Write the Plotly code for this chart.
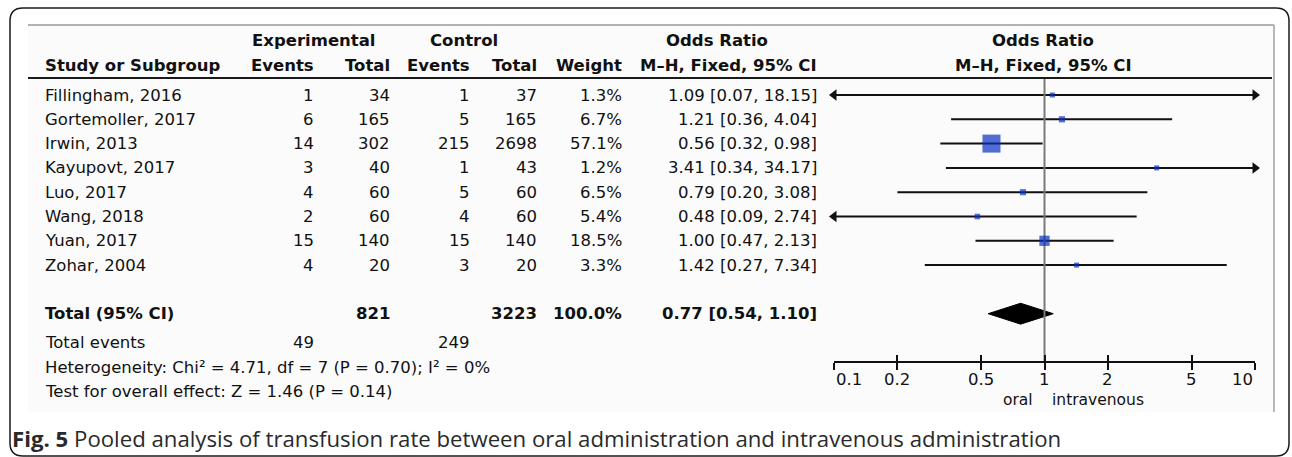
import math
import plotly.graph_objects as go

W, H = 1292, 457

# ---------------- data ----------------
studies = ["Fillingham, 2016", "Gortemoller, 2017", "Irwin, 2013", "Kayupovt, 2017",
           "Luo, 2017", "Wang, 2018", "Yuan, 2017", "Zohar, 2004"]
exp_events = [1, 6, 14, 3, 4, 2, 15, 4]
exp_total = [34, 165, 302, 40, 60, 60, 140, 20]
ctrl_events = [1, 5, 215, 1, 5, 4, 15, 3]
ctrl_total = [37, 165, 2698, 43, 60, 60, 140, 20]
weights = [1.3, 6.7, 57.1, 1.2, 6.5, 5.4, 18.5, 3.3]
or_est = [1.09, 1.21, 0.56, 3.41, 0.79, 0.48, 1.00, 1.42]
ci_low = [0.07, 0.36, 0.32, 0.34, 0.20, 0.09, 0.47, 0.27]
ci_high = [18.15, 4.04, 0.98, 34.17, 3.08, 2.74, 2.13, 7.34]

total_label = "Total (95% CI)"
total_exp = 821
total_ctrl = 3223
total_weight = 100.0
pooled_or = 0.77
pooled_low = 0.54
pooled_high = 1.10
events_exp = 49
events_ctrl = 249
heterogeneity = "Heterogeneity: Chi² = 4.71, df = 7 (P = 0.70); I² = 0%"
overall_effect = "Test for overall effect: Z = 1.46 (P = 0.14)"

tick_vals = [0.1, 0.2, 0.5, 1, 2, 5, 10]
tick_text = ["0.1", "0.2", "0.5", "1", "2", "5", "10"]
axis_min, axis_max = 0.1, 10
favours_left = "oral"
favours_right = "intravenous"
caption_bold = "Fig. 5"
caption_text = "Pooled analysis of transfusion rate between oral administration and intravenous administration"

# ---------------- layout helpers ----------------
ROW0 = 95.0      # pixel y of first study row
ROWH = 24.3      # row pitch in px
FONT = "DejaVu Sans"
TXT = "#111111"


def X(px):
    return px / W


def Y(py):
    return 1 - py / H


def row_of(py):
    return (py - ROW0) / ROWH


fig = go.Figure()

n = len(studies)
rows = list(range(n))
total_row = n + 1

# pooled diamond
dh = 0.43
fig.add_trace(go.Scatter(
    x=[pooled_low, pooled_or, pooled_high, pooled_or, pooled_low],
    y=[total_row, total_row - dh, total_row, total_row + dh, total_row],
    mode="lines", fill="toself", fillcolor="#000000",
    line=dict(color="#000000", width=1), hoverinfo="skip", showlegend=False,
    xaxis="x", yaxis="y"))

# CI lines
for i in rows:
    lo = max(ci_low[i], axis_min)
    hi = min(ci_high[i], axis_max)
    fig.add_trace(go.Scatter(
        x=[lo, hi], y=[i, i], mode="lines",
        line=dict(color="#111111", width=2), hoverinfo="skip", showlegend=False,
        xaxis="x", yaxis="y"))

# arrows for clipped CIs
left_x = [axis_min for i in rows if ci_low[i] < axis_min]
left_y = [i for i in rows if ci_low[i] < axis_min]
right_x = [axis_max for i in rows if ci_high[i] > axis_max]
right_y = [i for i in rows if ci_high[i] > axis_max]
fig.add_trace(go.Scatter(x=left_x, y=left_y, mode="markers",
                         marker=dict(symbol="triangle-left", size=10, color="#111111", line=dict(width=0)),
                         hoverinfo="skip", showlegend=False, cliponaxis=False, xaxis="x", yaxis="y"))
fig.add_trace(go.Scatter(x=right_x, y=right_y, mode="markers",
                         marker=dict(symbol="triangle-right", size=10, color="#111111", line=dict(width=0)),
                         hoverinfo="skip", showlegend=False, cliponaxis=False, xaxis="x", yaxis="y"))

# null line at OR = 1
fig.add_trace(go.Scatter(
    x=[1, 1], y=[row_of(78), row_of(362)], mode="lines",
    line=dict(color="#7a7a7a", width=2), hoverinfo="skip", showlegend=False,
    xaxis="x", yaxis="y"))

# squares (area ~ weight)
wmax = max(weights)
sizes = [max(5.0, 18.0 * (w / wmax) ** 0.5) for w in weights]
fig.add_trace(go.Scatter(
    x=or_est, y=rows, mode="markers",
    marker=dict(symbol="square", size=sizes, color="#0a2fc0", line=dict(width=0)),
    hoverinfo="skip", showlegend=False, cliponaxis=False, xaxis="x", yaxis="y"))

# dummy trace for overlay axis (upper tick halves)
fig.add_trace(go.Scatter(x=[1], y=[0], mode="markers", marker=dict(opacity=0),
                         hoverinfo="skip", showlegend=False, xaxis="x2", yaxis="y"))

# ---------------- table text ----------------
ann = []


def txt(px, row, s, anchor="right", bold=False, size=16.5, color=TXT, family=FONT):
    if bold:
        s = "<b>" + s + "</b>"
    ann.append(dict(x=X(px), xref="paper", y=row, yref="y", text=s, showarrow=False,
                    xanchor=anchor, yanchor="middle",
                    font=dict(family=family, size=size, color=color)))


# headers
hr1 = row_of(40)
hr2 = row_of(65)
txt(314, hr1, "Experimental", "center", True)
txt(464, hr1, "Control", "center", True)
txt(717, hr1, "Odds Ratio", "center", True)
txt(1043, hr1, "Odds Ratio", "center", True)
txt(43, hr2, "Study or Subgroup", "left", True)
txt(316, hr2, "Events", "right", True)
txt(392, hr2, "Total", "right", True)
txt(472, hr2, "Events", "right", True)
txt(539, hr2, "Total", "right", True)
txt(624, hr2, "Weight", "right", True)
txt(819, hr2, "M–H, Fixed, 95% CI", "right", True)
txt(1043, hr2, "M–H, Fixed, 95% CI", "center", True)

for i in rows:
    txt(43, i, studies[i], "left")
    txt(316, i, str(exp_events[i]))
    txt(392, i, str(exp_total[i]))
    txt(472, i, str(ctrl_events[i]))
    txt(539, i, str(ctrl_total[i]))
    txt(624, i, f"{weights[i]:.1f}%")
    txt(819, i, f"{or_est[i]:.2f} [{ci_low[i]:.2f}, {ci_high[i]:.2f}]")

txt(43, total_row, total_label, "left", True)
txt(392, total_row, str(total_exp), "right", True)
txt(539, total_row, str(total_ctrl), "right", True)
txt(624, total_row, f"{total_weight:.1f}%", "right", True)
txt(819, total_row, f"{pooled_or:.2f} [{pooled_low:.2f}, {pooled_high:.2f}]", "right", True)

txt(43, row_of(342), "Total events", "left")
txt(316, row_of(342), str(events_exp))
txt(472, row_of(342), str(events_ctrl))
txt(43, row_of(367), heterogeneity, "left")
txt(43, row_of(391), overall_effect, "left")

# axis tick labels (ends aligned inward, as in RevMan)
for k, (v, t) in enumerate(zip(tick_vals, tick_text)):
    anchor = "left" if k == 0 else ("right" if k == len(tick_vals) - 1 else "center")
    ann.append(dict(x=math.log10(v), xref="x", y=row_of(379), yref="y", text=t,
                    showarrow=False, xanchor=anchor, yanchor="middle",
                    font=dict(family=FONT, size=16.5, color=TXT)))

# favours labels
txt(1035, row_of(400), favours_left, "right", size=15.5)
txt(1050, row_of(400), favours_right, "left", size=15.5)

# caption
ann.append(dict(x=X(10), xref="paper", y=Y(438), yref="paper",
                text=f"<b>{caption_bold}</b> {caption_text}", showarrow=False,
                xanchor="left", yanchor="middle",
                font=dict(family="Open Sans", size=22.2, color="#2a2a2a")))

# ---------------- decoration shapes ----------------
shapes = []


def hline(y, x0, x1, color, width):
    shapes.append(dict(type="line", xref="paper", yref="paper", x0=X(x0), x1=X(x1),
                       y0=Y(y), y1=Y(y), line=dict(color=color, width=width)))


def vline(x, y0, y1, color, width):
    shapes.append(dict(type="line", xref="paper", yref="paper", x0=X(x), x1=X(x),
                       y0=Y(y0), y1=Y(y1), line=dict(color=color, width=width)))


# light panel background
shapes.append(dict(type="rect", xref="paper", yref="paper", x0=X(28), x1=X(1274),
                   y0=Y(412), y1=Y(25), fillcolor="#fbfbfb", line=dict(width=0), layer="below"))
hline(25, 28, 1274, "#9a9a9a", 1.5)
vline(1274, 25, 412, "#a0a0a0", 1.5)
hline(78, 28, 1272, "#1a1a1a", 2)

# outer rounded frame
L, T, R, B, rad = 10, 8, 1289, 456, 13
path = (f"M {X(L)},{Y(T + rad)} Q {X(L)},{Y(T)} {X(L + rad)},{Y(T)} "
        f"L {X(R - rad)},{Y(T)} Q {X(R)},{Y(T)} {X(R)},{Y(T + rad)} "
        f"L {X(R)},{Y(B - rad)} Q {X(R)},{Y(B)} {X(R - rad)},{Y(B)} "
        f"L {X(L + rad)},{Y(B)} Q {X(L)},{Y(B)} {X(L)},{Y(B - rad)} Z")
shapes.append(dict(type="path", xref="paper", yref="paper", path=path,
                   line=dict(color="#1a1a1a", width=1.5)))

axis_common = dict(type="log", range=[-1, 1], domain=[X(834), X(1255)],
                   anchor="free", position=Y(362), showgrid=False, zeroline=False,
                   tickvals=tick_vals, tickwidth=2, tickcolor="#111111", ticklen=7,
                   showticklabels=False, fixedrange=True)

fig.update_layout(
    width=W, height=H,
    margin=dict(l=0, r=0, t=0, b=0, pad=0, autoexpand=False),
    paper_bgcolor="white", plot_bgcolor="rgba(0,0,0,0)",
    showlegend=False,
    xaxis=dict(**axis_common, ticks="outside", showline=True, linecolor="#111111", linewidth=2),
    xaxis2=dict(**axis_common, overlaying="x", ticks="inside", showline=False),
    yaxis=dict(domain=[0, 1], range=[row_of(H), row_of(0)], visible=False, fixedrange=True),
    annotations=ann,
    shapes=shapes,
)

fig.write_html("out.html", config={"displayModeBar": False, "staticPlot": True},
               post_script="document.body.style.margin='0px';document.body.style.padding='0px';")
